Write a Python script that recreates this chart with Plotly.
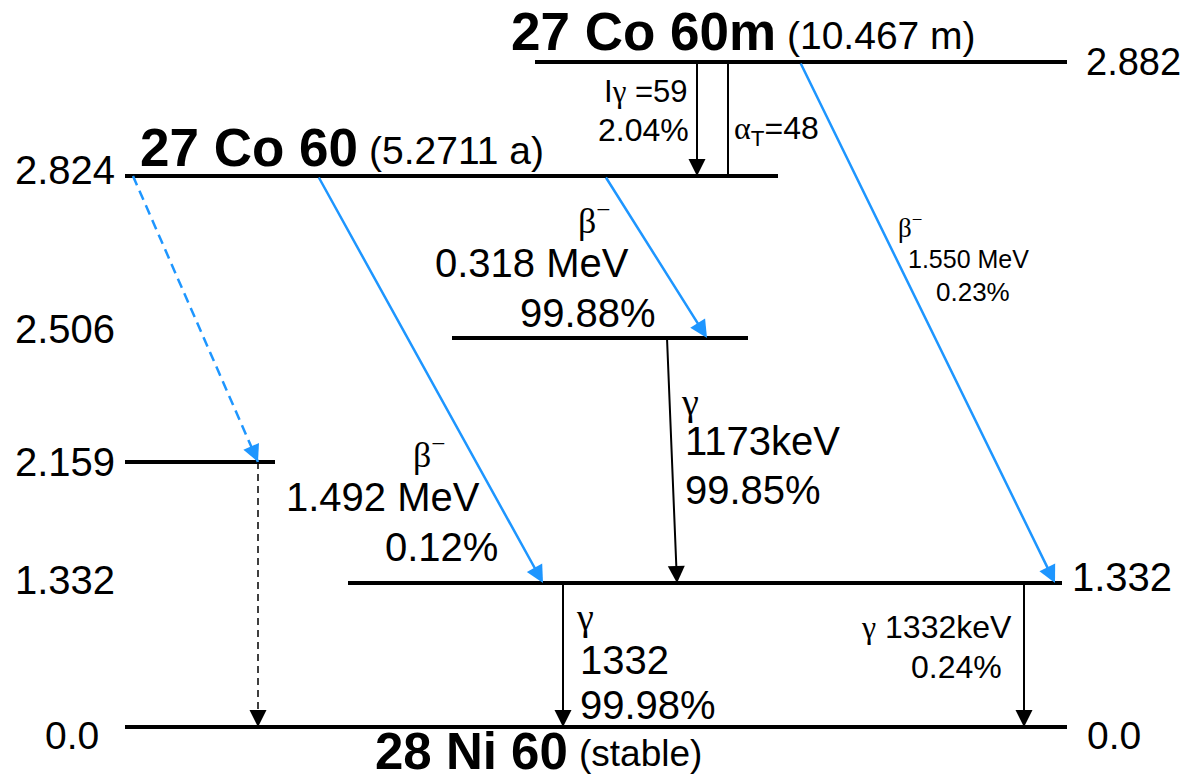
import plotly.graph_objects as go

# ---------------- data ----------------
level_energies = ["2.882", "2.824", "2.506", "2.159", "1.332", "0.0"]
nuclides = ["27 Co 60m", "27 Co 60", "28 Ni 60"]
half_lives = ["(10.467 m)", "(5.2711 a)", "(stable)"]

beta_energies = ["1.550 MeV", "0.318 MeV", "1.492 MeV"]
beta_intensities = ["0.23%", "99.88%", "0.12%"]
gamma_energies = ["1173keV", "1332", "1332keV"]
gamma_intensities = ["99.85%", "99.98%", "0.24%"]
it_labels = ["Iγ =59", "2.04%", "α<sub>T</sub>=48"]

# ---------------- layout (drawing positions, pixel space) ----------------
W, H = 1191, 782
BLUE = "#1E96FF"
SANS = "Liberation Sans, Arial, sans-serif"
SERIF = "Liberation Serif, Times New Roman, serif"

# level: (y, x0, x1)
level_geom = [
    (62, 535, 1067),   # 2.882
    (176, 125, 778),   # 2.824
    (338, 452, 748),   # 2.506
    (462, 125, 275),   # 2.159
    (583, 348, 1062),  # 1.332
    (727, 125, 1067),  # 0.0
]
# level labels: (level index, x, y, xanchor, size)
level_label_pos = [
    (0, 1084, 62, "left", 38),
    (1, 117, 170, "right", 40),
    (2, 117, 329, "right", 40),
    (3, 117, 462, "right", 40),
    (4, 117, 580, "right", 40),
    (4, 1070, 577, "left", 40),
    (5, 101, 735, "right", 39),
    (5, 1085, 735, "left", 39),
]

fig = go.Figure()

# level lines
lx, ly = [], []
for (y, x0, x1) in level_geom:
    lx += [x0, x1, None]
    ly += [y, y, None]
fig.add_trace(go.Scatter(x=lx, y=ly, mode="lines",
                         line=dict(color="black", width=4), hoverinfo="skip"))

annotations = []


def arrow(x0, y0, x1, y1, color, head=True, width=2, size=1.7):
    annotations.append(dict(
        x=x1, y=y1, ax=x0, ay=y0, xref="x", yref="y", axref="x", ayref="y",
        text="", showarrow=True, arrowhead=2 if head else 0, arrowsize=size,
        arrowwidth=width, arrowcolor=color, standoff=0, startstandoff=0))


def dashed(x0, y0, x1, y1, color, dash, width=2):
    fig.add_trace(go.Scatter(x=[x0, x1], y=[y0, y1], mode="lines",
                             line=dict(color=color, width=width, dash=dash),
                             hoverinfo="skip"))
    # arrow head only
    fx = x1 - (x1 - x0) * 0.06
    fy = y1 - (y1 - y0) * 0.06
    arrow(fx, fy, x1, y1, color, width=2)


def text(t, x, y, size, xanchor="left", family=SANS, bold=False):
    if bold:
        t = "<b>" + t + "</b>"
    annotations.append(dict(x=x, y=y, xref="x", yref="y", text=t, showarrow=False,
                            xanchor=xanchor, yanchor="middle",
                            font=dict(family=family, size=size, color="black")))


# transitions
arrow(697, 62, 697, 176, "black")                         # IT gamma
arrow(728, 62, 728, 176, "black", head=False)             # conversion
arrow(800, 62, 1055, 583, BLUE, width=2.5, size=1.4)      # beta 1.550
arrow(605, 176, 707, 338, BLUE, width=2.5, size=1.4)      # beta 0.318
arrow(318, 176, 543, 583, BLUE, width=2.5, size=1.4)      # beta 1.492
dashed(133, 176, 258, 462, BLUE, "10px,6px", width=2.5)   # beta weak
dashed(258, 462, 258, 727, "black", "7px,5px", width=1.5) # gamma weak
arrow(667, 338, 677, 583, "black")                        # gamma 1173
arrow(563, 583, 563, 727, "black")                        # gamma 1332
arrow(1024, 583, 1024, 727, "black")                      # gamma 1332 (weak)

# level labels
for (i, x, y, xa, sz) in level_label_pos:
    text(level_energies[i], x, y, sz, xanchor=xa)

# nuclide titles
text(nuclides[0], 778, 31, 53, xanchor="right", bold=True)
text(half_lives[0], 785, 35, 39)
text(nuclides[1], 360, 147, 53, xanchor="right", bold=True)
text(half_lives[1], 367, 150, 39)
text(nuclides[2], 570, 751, 51, xanchor="right", bold=True)
text(half_lives[2], 577, 753, 37)

# isomeric transition labels
text(it_labels[0].replace("γ", "<span style='font-family:Liberation Serif'>γ</span>"),
     690, 91, 31, xanchor="right")
text(it_labels[1], 691, 130, 32, xanchor="right")
text(it_labels[2].replace("α", "<span style='font-family:Liberation Serif'>α</span>"),
     732, 130, 32)

# beta labels
text("β<sup>−</sup>", 896, 226, 27, family=SERIF)
text(beta_energies[0], 906, 259, 25)
text(beta_intensities[0], 934, 292, 26)

text("β<sup>−</sup>", 576, 218, 36, family=SERIF)
text(beta_energies[1], 433, 263, 40)
text(beta_intensities[1], 518, 313, 40)

text("β<sup>−</sup>", 411, 452, 36, family=SERIF)
text(beta_energies[2], 284, 497, 40)
text(beta_intensities[2], 383, 547, 40)

# gamma labels
text("γ", 679, 402, 38, family=SERIF)
text(gamma_energies[0], 683, 441, 40)
text(gamma_intensities[0], 683, 490, 40)

text("γ", 574, 617, 38, family=SERIF)
text(gamma_energies[1], 578, 660, 40)
text(gamma_intensities[1], 578, 705, 40)

text("<span style='font-family:Liberation Serif'>γ</span> " + gamma_energies[2],
     1014, 627, 32, xanchor="right")
text(gamma_intensities[2], 1004, 667, 32, xanchor="right")

fig.update_layout(
    width=W, height=H, margin=dict(l=0, r=0, t=0, b=0),
    paper_bgcolor="white", plot_bgcolor="white", showlegend=False,
    xaxis=dict(range=[0, W], visible=False, fixedrange=True),
    yaxis=dict(range=[H, 0], visible=False, fixedrange=True),
    annotations=annotations, hovermode=False,
)

fig.write_html("out.html", config={"displayModeBar": False},
               post_script="document.body.style.margin='0';document.body.style.overflow='hidden';")
